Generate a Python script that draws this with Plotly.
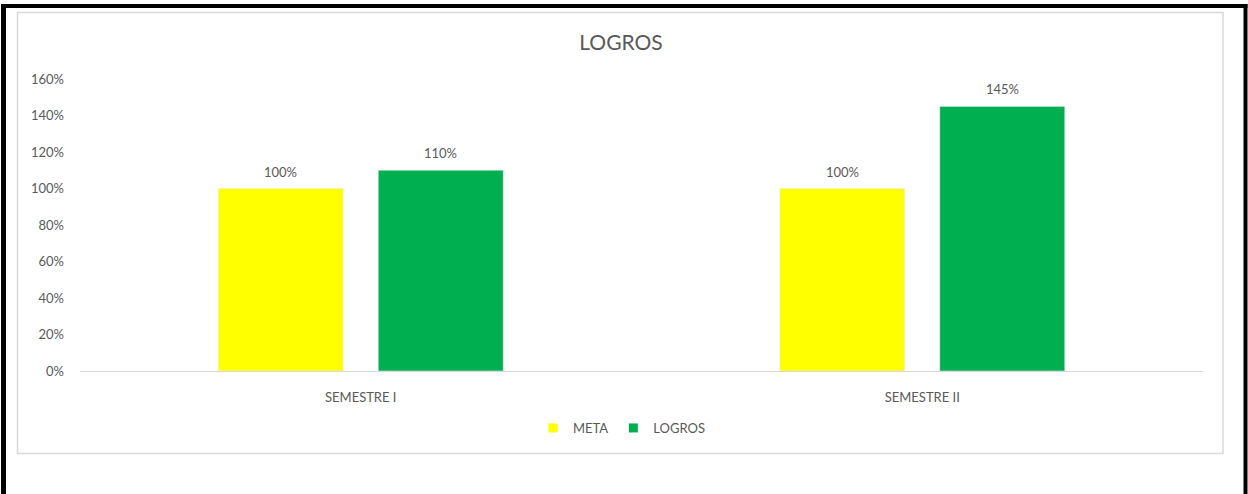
import plotly.graph_objs as go

semestres = ["SEMESTRE I", "SEMESTRE II"]
meta = [100, 100]
logros = [110, 145]
y_ticks = [0, 20, 40, 60, 80, 100, 120, 140, 160]

W, H = 1248, 494
GRIS = "#595959"
AMARILLO = "#FFFF00"
VERDE = "#00B050"


def px(x):
    return x / W


def py(y):
    return 1 - y / H


fig = go.Figure()
fig.add_trace(go.Bar(x=semestres, y=meta, name="META", marker_color=AMARILLO,
                     showlegend=False))
fig.add_trace(go.Bar(x=semestres, y=logros, name="LOGROS", marker_color=VERDE,
                     showlegend=False))
# entradas de leyenda con cuadrado pequeño
for nombre, color in [("META", AMARILLO), ("LOGROS", VERDE)]:
    fig.add_trace(go.Scatter(
        x=[None], y=[None], mode="markers", name=nombre,
        marker=dict(symbol="square", size=9, color=color),
    ))

# etiquetas de datos sobre las barras
anots = []
for serie, desplaz in [(meta, -80), (logros, 80)]:
    for cat, v in zip(semestres, serie):
        anots.append(dict(x=cat, y=v, xref="x", yref="y", text=f"{v}%",
                          showarrow=False, xshift=desplaz, yshift=17,
                          font=dict(size=13, color=GRIS)))

shapes = [
    # marco negro
    dict(type="rect", xref="paper", yref="paper", x0=px(1), x1=px(6),
         y0=py(494), y1=py(4), fillcolor="black", line_width=0),
    dict(type="rect", xref="paper", yref="paper", x0=px(1), x1=px(1247.5),
         y0=py(8), y1=py(4), fillcolor="black", line_width=0),
    dict(type="rect", xref="paper", yref="paper", x0=px(1243.5), x1=px(1247.5),
         y0=py(494), y1=py(4), fillcolor="black", line_width=0),
    # borde del area del grafico
    dict(type="rect", xref="paper", yref="paper", x0=px(17.5), x1=px(1223),
         y0=py(453.5), y1=py(12.5), line=dict(color="#d9d9d9", width=1.5)),
]

fig.update_layout(
    width=W, height=H,
    margin=dict(l=0, r=0, t=0, b=0, pad=0, autoexpand=False),
    paper_bgcolor="white", plot_bgcolor="white",
    font=dict(family="Lato, Noto Sans, sans-serif", color=GRIS, size=13),
    title=dict(text="LOGROS", x=px(621), y=py(43), xanchor="center",
               yanchor="middle", font=dict(size=21, color=GRIS)),
    barmode="group", bargap=0.43, bargroupgap=0.219,
    showlegend=True,
    legend=dict(orientation="h", x=px(622), y=py(428), xanchor="center",
                yanchor="middle", font=dict(size=13, color=GRIS),
                itemwidth=30, tracegroupgap=0),
    xaxis=dict(domain=[px(80), px(1203)], showline=True, linecolor="#d9d9d9",
               linewidth=1, showgrid=False, ticks="", ticklabelstandoff=14,
               tickfont=dict(size=13, color=GRIS), automargin=False),
    yaxis=dict(domain=[py(371), py(79)], range=[0, 160], tickvals=y_ticks,
               ticktext=[f"{v}%" for v in y_ticks], showgrid=False,
               zeroline=False, showline=False, ticks="",
               ticklabelstandoff=15, tickfont=dict(size=13, color=GRIS),
               automargin=False),
    shapes=shapes,
    annotations=anots,
)

fig.write_html("out.html", config={"displayModeBar": False},
               post_script="document.body.style.margin='0';")
